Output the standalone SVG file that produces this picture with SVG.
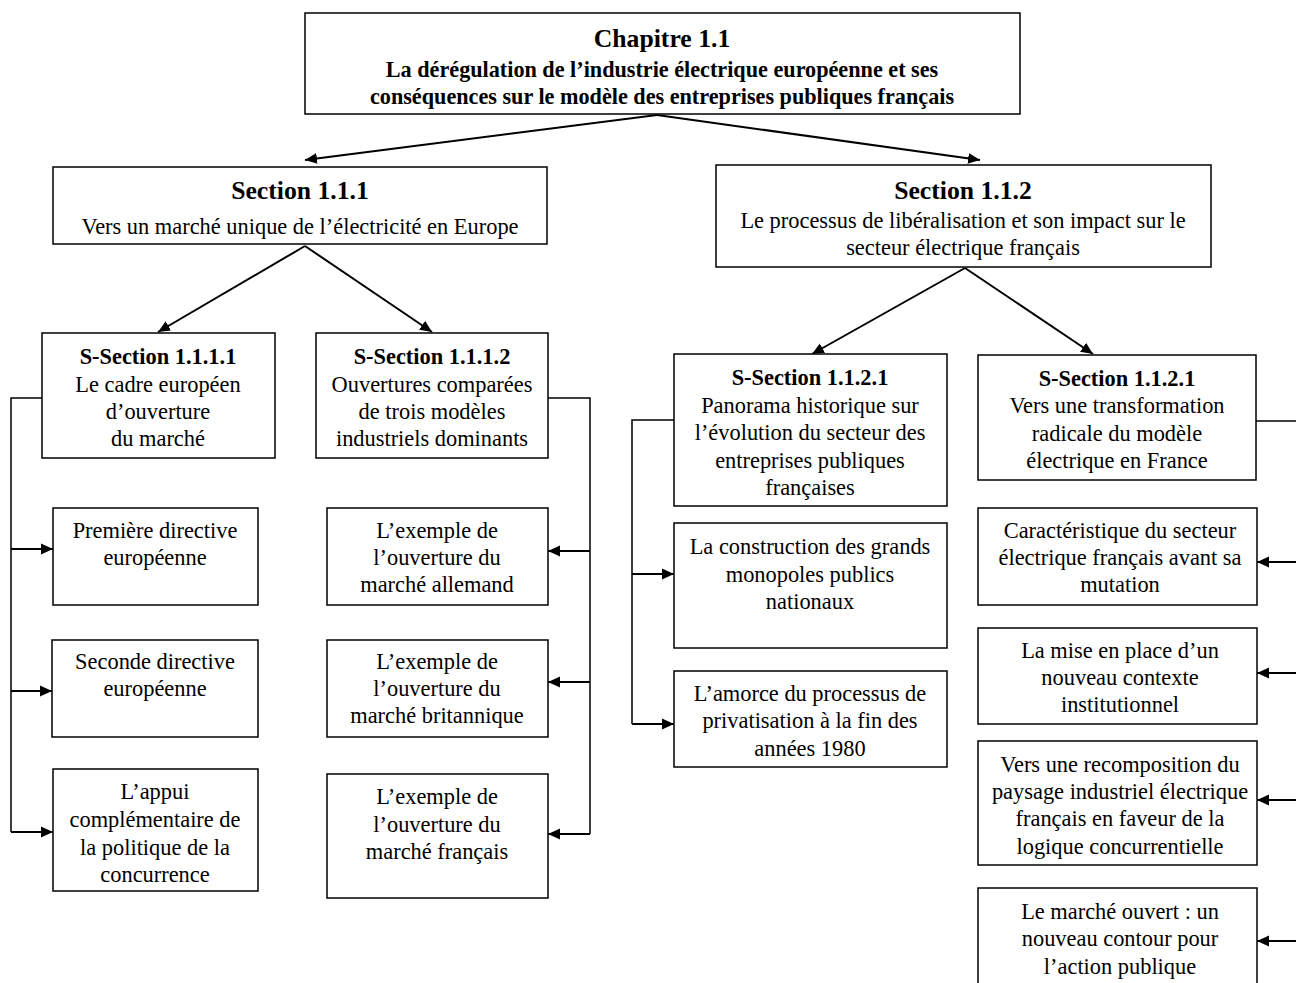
<svg xmlns="http://www.w3.org/2000/svg" width="1296" height="983" viewBox="0 0 1296 983" font-family="'Liberation Serif', 'DejaVu Serif', serif">
<style>
.box{fill:#fff;stroke:#000;stroke-width:1.5}
text{font-family:'Liberation Serif','DejaVu Serif',serif;fill:#000;text-anchor:middle}
.t{font-size:22.4px}
.b{font-size:22.4px;font-weight:bold}
.top{font-size:22.2px;font-weight:bold}
.h{font-size:25.7px;font-weight:bold}
.c{fill:none;stroke:#000;stroke-width:2}
</style>
<defs>
<marker id="ah2" viewBox="0 0 10 10" refX="10" refY="5" markerWidth="12" markerHeight="12" orient="auto" markerUnits="userSpaceOnUse">
<path d="M0,0.5 L10,5 L0,9.5 z" fill="#000"/>
</marker>
</defs>
<rect width="1296" height="983" fill="#fff"/>
<g id="connectors">
<line class="c" x1="657" y1="115" x2="305" y2="160" marker-end="url(#ah2)"/>
<line class="c" x1="657" y1="115" x2="980" y2="160" marker-end="url(#ah2)"/>
<line class="c" x1="305" y1="246" x2="158" y2="332" marker-end="url(#ah2)"/>
<line class="c" x1="305" y1="246" x2="432" y2="332" marker-end="url(#ah2)"/>
<line class="c" x1="965" y1="268" x2="812" y2="354" marker-end="url(#ah2)"/>
<line class="c" x1="965" y1="268" x2="1093" y2="354" marker-end="url(#ah2)"/>
<polyline class="c" style="stroke-width:1.5" points="42,398 11,398 11,832"/>
<line class="c" x1="11" y1="549" x2="53" y2="549" marker-end="url(#ah2)"/>
<line class="c" x1="11" y1="691" x2="52" y2="691" marker-end="url(#ah2)"/>
<line class="c" x1="11" y1="832" x2="53" y2="832" marker-end="url(#ah2)"/>
<polyline class="c" style="stroke-width:1.5" points="548,398 590,398 590,834"/>
<line class="c" x1="590" y1="551" x2="548" y2="551" marker-end="url(#ah2)"/>
<line class="c" x1="590" y1="682" x2="548" y2="682" marker-end="url(#ah2)"/>
<line class="c" x1="590" y1="834" x2="548" y2="834" marker-end="url(#ah2)"/>
<polyline class="c" style="stroke-width:1.5" points="674,420 632,420 632,724"/>
<line class="c" x1="632" y1="574" x2="674" y2="574" marker-end="url(#ah2)"/>
<line class="c" x1="632" y1="724" x2="674" y2="724" marker-end="url(#ah2)"/>
<line class="c" style="stroke-width:1.5" x1="1256" y1="421" x2="1296" y2="421"/>
<line class="c" x1="1296" y1="562" x2="1257" y2="562" marker-end="url(#ah2)"/>
<line class="c" x1="1296" y1="673" x2="1257" y2="673" marker-end="url(#ah2)"/>
<line class="c" x1="1296" y1="800" x2="1257" y2="800" marker-end="url(#ah2)"/>
<line class="c" x1="1296" y1="941" x2="1257" y2="941" marker-end="url(#ah2)"/>
</g>
<g id="chapitre">
<rect class="box" x="305" y="13" width="715" height="101"/>
<text class="h" x="662" y="47">Chapitre 1.1</text>
<text class="top" x="662" y="77">La dérégulation de l’industrie électrique européenne et ses</text>
<text class="top" x="662" y="104">conséquences sur le modèle des entreprises publiques français</text>
</g>
<g id="section111">
<rect class="box" x="53" y="167" width="494" height="77"/>
<text class="h" x="300" y="199">Section 1.1.1</text>
<text class="t" x="300" y="234">Vers un marché unique de l’électricité en Europe</text>
</g>
<g id="section112">
<rect class="box" x="716" y="165" width="495" height="102"/>
<text class="h" x="963" y="199">Section 1.1.2</text>
<text class="t" x="963" y="228">Le processus de libéralisation et son impact sur le</text>
<text class="t" x="963" y="255">secteur électrique français</text>
</g>
<g id="ss1111">
<rect class="box" x="42" y="333" width="233" height="125"/>
<text class="b" x="158" y="364">S-Section 1.1.1.1</text>
<text class="t" x="158" y="392">Le cadre européen</text>
<text class="t" x="158" y="419">d’ouverture</text>
<text class="t" x="158" y="446">du marché</text>
</g>
<g id="ss1112">
<rect class="box" x="316" y="333" width="232" height="125"/>
<text class="b" x="432" y="364">S-Section 1.1.1.2</text>
<text class="t" x="432" y="392">Ouvertures comparées</text>
<text class="t" x="432" y="419">de trois modèles</text>
<text class="t" x="432" y="446">industriels dominants</text>
</g>
<g id="premiere">
<rect class="box" x="53" y="508" width="205" height="97"/>
<text class="t" x="155" y="538">Première directive</text>
<text class="t" x="155" y="565">européenne</text>
</g>
<g id="seconde">
<rect class="box" x="52" y="640" width="206" height="97"/>
<text class="t" x="155" y="669">Seconde directive</text>
<text class="t" x="155" y="696">européenne</text>
</g>
<g id="appui">
<rect class="box" x="53" y="769" width="205" height="122"/>
<text class="t" x="155" y="799">L’appui</text>
<text class="t" x="155" y="827">complémentaire de</text>
<text class="t" x="155" y="855">la politique de la</text>
<text class="t" x="155" y="882">concurrence</text>
</g>
<g id="allemand">
<rect class="box" x="327" y="508" width="221" height="97"/>
<text class="t" x="437" y="538">L’exemple de</text>
<text class="t" x="437" y="565">l’ouverture du</text>
<text class="t" x="437" y="592">marché allemand</text>
</g>
<g id="britannique">
<rect class="box" x="327" y="640" width="221" height="97"/>
<text class="t" x="437" y="669">L’exemple de</text>
<text class="t" x="437" y="696">l’ouverture du</text>
<text class="t" x="437" y="723">marché britannique</text>
</g>
<g id="francais">
<rect class="box" x="327" y="774" width="221" height="124"/>
<text class="t" x="437" y="804">L’exemple de</text>
<text class="t" x="437" y="832">l’ouverture du</text>
<text class="t" x="437" y="859">marché français</text>
</g>
<g id="ss1121a">
<rect class="box" x="674" y="354" width="273" height="152"/>
<text class="b" x="810" y="385">S-Section 1.1.2.1</text>
<text class="t" x="810" y="413">Panorama historique sur</text>
<text class="t" x="810" y="440">l’évolution du secteur des</text>
<text class="t" x="810" y="468">entreprises publiques</text>
<text class="t" x="810" y="495">françaises</text>
</g>
<g id="construction">
<rect class="box" x="674" y="523" width="273" height="125"/>
<text class="t" x="810" y="554">La construction des grands</text>
<text class="t" x="810" y="582">monopoles publics</text>
<text class="t" x="810" y="609">nationaux</text>
</g>
<g id="amorce">
<rect class="box" x="674" y="671" width="273" height="96"/>
<text class="t" x="810" y="701">L’amorce du processus de</text>
<text class="t" x="810" y="728">privatisation à la fin des</text>
<text class="t" x="810" y="756">années 1980</text>
</g>
<g id="ss1121b">
<rect class="box" x="978" y="355" width="278" height="125"/>
<text class="b" x="1117" y="386">S-Section 1.1.2.1</text>
<text class="t" x="1117" y="413">Vers une transformation</text>
<text class="t" x="1117" y="441">radicale du modèle</text>
<text class="t" x="1117" y="468">électrique en France</text>
</g>
<g id="caracteristique">
<rect class="box" x="978" y="508" width="279" height="97"/>
<text class="t" x="1120" y="538">Caractéristique du secteur</text>
<text class="t" x="1120" y="565">électrique français avant sa</text>
<text class="t" x="1120" y="592">mutation</text>
</g>
<g id="miseenplace">
<rect class="box" x="978" y="628" width="279" height="96"/>
<text class="t" x="1120" y="658">La mise en place d’un</text>
<text class="t" x="1120" y="685">nouveau contexte</text>
<text class="t" x="1120" y="712">institutionnel</text>
</g>
<g id="recomposition">
<rect class="box" x="978" y="741" width="279" height="124"/>
<text class="t" x="1120" y="772">Vers une recomposition du</text>
<text class="t" x="1120" y="799">paysage industriel électrique</text>
<text class="t" x="1120" y="826">français en faveur de la</text>
<text class="t" x="1120" y="854">logique concurrentielle</text>
</g>
<g id="marcheouvert">
<rect class="box" x="978" y="888" width="279" height="110"/>
<text class="t" x="1120" y="919">Le marché ouvert : un</text>
<text class="t" x="1120" y="946">nouveau contour pour</text>
<text class="t" x="1120" y="974">l’action publique</text>
</g>
</svg>
